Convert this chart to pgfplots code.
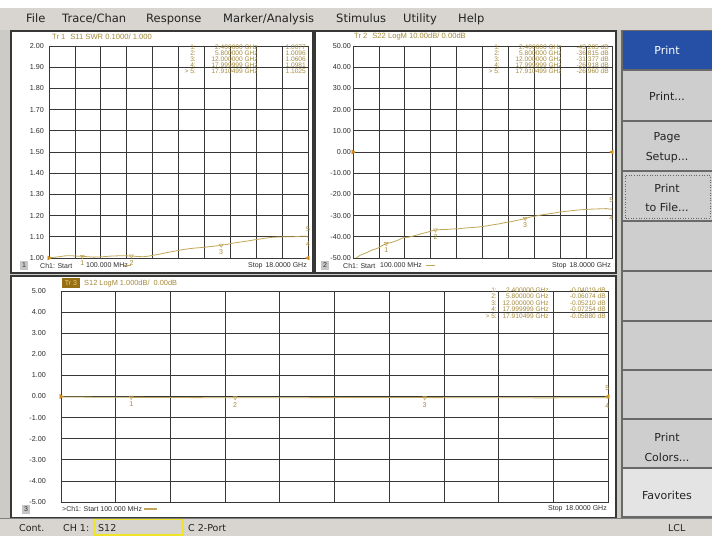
\documentclass[border=0pt]{standalone}
\usepackage{pgfplots}
\pgfplotsset{compat=1.18}
\usepackage{fontspec}
\setmainfont{Liberation Sans}
\newfontfamily\uifont{DejaVu Sans}
\definecolor{bggray}{RGB}{205,203,198}
\definecolor{menugray}{RGB}{216,213,208}
\definecolor{btngray}{RGB}{206,206,206}
\definecolor{btnlight}{RGB}{228,228,228}
\definecolor{btnsep}{RGB}{105,105,105}
\definecolor{blueBtn}{RGB}{38,80,166}
\definecolor{trace}{RGB}{192,166,86}
\definecolor{mtext}{RGB}{165,138,58}
\definecolor{refc}{RGB}{205,140,30}
\definecolor{gridc}{RGB}{55,55,55}
\definecolor{labc}{RGB}{45,45,45}
\definecolor{framec}{RGB}{55,55,55}
\definecolor{uitext}{RGB}{35,35,35}
\definecolor{trbox}{RGB}{150,110,20}
\definecolor{trboxtext}{RGB}{240,205,110}
\definecolor{ybox}{RGB}{240,228,40}
\newcommand\sz[1]{\fontsize{#1}{#1}\selectfont}
\pgfplotsset{
  vna/.style={
    scale only axis, clip=false,
    xmin=0.1, xmax=18,
    xtick={0.1,1.89,3.68,5.47,7.26,9.05,10.84,12.63,14.42,16.21,18},
    xticklabels={},
    grid=major,
    major grid style={gridc, line width=0.7pt},
    axis line style={gridc, line width=0.9pt},
    tick style={draw=none},
    yticklabel style={font=\sz{7.2}, text=labc, inner sep=1pt},
    /pgf/number format/fixed, /pgf/number format/fixed zerofill,
    /pgf/number format/precision=2,
    /pgf/number format/assume math mode=true,
    axis background/.style={fill=white},
  },
  trc/.style={trace, line width=0.8pt},
  mk/.style={only marks, mark=triangle, mark size=2.2pt,
    mark options={rotate=180, draw=trace, line width=0.5pt, fill=none},
    point meta=explicit symbolic, nodes near coords,
    nodes near coords style={anchor=north, font=\sz{7}, text=mtext, yshift=-1pt}},
  refL/.style={only marks, mark=triangle*, mark size=2.4pt, mark options={rotate=-90, fill=refc, draw=refc}},
  refR/.style={only marks, mark=triangle*, mark size=2.4pt, mark options={rotate=90, fill=refc, draw=refc}},
}
\begin{document}
\begin{tikzpicture}
\begin{scope}[x=1pt,y=1pt]
\path[use as bounding box] (0,0) rectangle (712,536);
\fill[bggray] (0,0) rectangle (712,536);
\fill[white] (0,528) rectangle (712,536);
\fill[menugray] (0,506) rectangle (712,528);
% menu
\begin{scope}[every node/.style={anchor=base west, inner sep=0pt, font=\uifont\sz{11.5}, text=uitext}]
\node at (26,513) {File};
\node at (62,513) {Trace/Chan};
\node at (146,513) {Response};
\node at (223,513) {Marker/Analysis};
\node at (336,513) {Stimulus};
\node at (403,513) {Utility};
\node at (458,513) {Help};
\end{scope}
% panels
\filldraw[fill=white, draw=framec, line width=2.5pt] (11,263) rectangle (313,505);
\filldraw[fill=white, draw=framec, line width=2.5pt] (315,263) rectangle (616,505);
\filldraw[fill=white, draw=framec, line width=2.5pt] (11,18) rectangle (616,260);
% softkeys
\fill[btnsep] (621,18) rectangle (712,506);
\fill[blueBtn] (623,467) rectangle (712,505);
\fill[btngray] (623,416) rectangle (712,464.5);
\fill[btngray] (623,366) rectangle (712,414);
\fill[btngray] (623,316) rectangle (712,364);
\fill[btngray] (623,266) rectangle (712,314);
\fill[btngray] (623,216) rectangle (712,264);
\fill[btngray] (623,167) rectangle (712,214);
\fill[btngray] (623,118) rectangle (712,165);
\fill[btngray] (623,69) rectangle (712,116);
\fill[btnlight] (623,20) rectangle (712,67);
\draw[uitext!70, dotted, line width=0.6pt] (625,318) rectangle (710,361);
\begin{scope}[every node/.style={anchor=center, inner sep=0pt, font=\uifont\sz{11}, text=uitext}]
\node[text=white] at (667,486) {Print};
\node at (667,440) {Print...};
\node at (667,398) {Page};
\node at (667,378) {Setup...};
\node at (667,348) {Print};
\node at (667,329) {to File...};
\node at (667,99) {Print};
\node at (667,79) {Colors...};
\node at (667,41) {Favorites};
\end{scope}
% status bar
\fill[menugray] (0,0) rectangle (712,17);
\draw[gray] (0,17.5) -- (712,17.5);
\draw[ybox, line width=1.3pt] (94,1) rectangle (183,16.5);
\begin{scope}[every node/.style={anchor=west, inner sep=0pt, font=\uifont\sz{9.5}, text=uitext}]
\node at (19,8) {Cont.};
\node at (63,8) {CH 1:};
\node at (98,8) {S12};
\node at (188,8) {C 2-Port};
\node at (668,8) {LCL};
\end{scope}
\end{scope}

% ---------- top left: S11 SWR ----------
\begin{axis}[vna, at={(49pt,278pt)}, anchor=south west, width=259pt, height=212pt,
  ymin=1, ymax=2, ytick={1,1.1,1.2,1.3,1.4,1.5,1.6,1.7,1.8,1.9,2},
  yticklabel style={xshift=-4pt}]
\addplot[trc] coordinates {
(0.1,1.000)(0.4,1.003)(0.8,1.006)(1.2,1.010)(1.6,1.011)(2.0,1.009)(2.4,1.0077)(2.8,1.006)(3.2,1.004)(3.6,1.005)(4.0,1.007)(4.4,1.009)(4.8,1.010)(5.2,1.011)(5.5,1.010)(5.8,1.0096)(6.2,1.007)(6.6,1.006)(7.0,1.009)(7.4,1.014)(7.8,1.019)(8.2,1.025)(8.6,1.030)(9.0,1.035)(9.4,1.040)(9.8,1.044)(10.2,1.047)(10.6,1.049)(11.0,1.052)(11.4,1.055)(11.8,1.058)(12.0,1.0606)(12.4,1.064)(12.8,1.070)(13.2,1.074)(13.6,1.078)(14.0,1.082)(14.4,1.087)(14.8,1.091)(15.2,1.095)(15.6,1.098)(16.0,1.099)(16.4,1.100)(16.8,1.100)(17.2,1.101)(17.6,1.103)(17.91,1.1025)(18.0,1.0981)};
\addplot[mk] coordinates {(2.4,1.0077)[1] (5.8,1.0096)[2] (12,1.0606)[3]};
\addplot[refL] coordinates {(0.1,1)};
\addplot[refR] coordinates {(18,1)};
\node[font=\sz{7}, text=mtext, inner sep=0pt] at (axis cs:18,1.135) {5};
\node[font=\sz{7}, text=mtext, inner sep=0pt] at (axis cs:18,1.065) {4};
\end{axis}

% ---------- top right: S22 LogM ----------
\begin{axis}[vna, at={(353pt,278pt)}, anchor=south west, width=259pt, height=212pt,
  ymin=-50, ymax=50, ytick={-50,-40,-30,-20,-10,0,10,20,30,40,50},
  yticklabel style={xshift=-1pt}]
\addplot[trc] coordinates {
(0.3,-50.0)(0.6,-48.7)(1.0,-47.6)(1.4,-46.3)(1.8,-45.4)(2.1,-44.2)(2.4,-43.205)(2.8,-42.6)(3.2,-41.6)(3.6,-40.4)(4.0,-40.1)(4.4,-39.4)(4.8,-38.6)(5.2,-37.9)(5.5,-37.3)(5.8,-36.815)(6.2,-36.6)(6.6,-36.5)(7.0,-36.3)(7.4,-36.2)(7.8,-35.9)(8.2,-35.7)(8.6,-35.5)(9.0,-35.2)(9.4,-34.8)(9.8,-34.3)(10.2,-33.9)(10.6,-33.3)(11.0,-32.9)(11.4,-32.3)(11.8,-31.7)(12.0,-31.377)(12.4,-30.6)(12.8,-30.1)(13.2,-29.6)(13.6,-29.2)(14.0,-28.8)(14.4,-28.3)(14.8,-28.0)(15.2,-27.7)(15.6,-27.4)(16.0,-27.2)(16.4,-27.0)(16.8,-26.9)(17.2,-26.8)(17.6,-26.7)(17.91,-26.96)(18.0,-26.918)};
\addplot[mk] coordinates {(2.4,-43.205)[1] (5.8,-36.815)[2] (12,-31.377)[3]};
\addplot[refL] coordinates {(0.1,0)};
\addplot[refR] coordinates {(18,0)};
\node[font=\sz{7}, text=mtext, inner sep=0pt] at (axis cs:17.95,-22.8) {5};
\node[font=\sz{7}, text=mtext, inner sep=0pt] at (axis cs:17.95,-31.0) {4};
\end{axis}

% ---------- bottom: S12 LogM ----------
\begin{axis}[vna, at={(61pt,34pt)}, anchor=south west, width=547pt, height=211pt,
  ymin=-5, ymax=5, ytick={-5,-4,-3,-2,-1,0,1,2,3,4,5},
  yticklabel style={xshift=-14pt}]
\addplot[trc] coordinates {
(0.1,-0.02)(1.0,-0.03)(2.4,-0.04019)(4.0,-0.05)(5.8,-0.06074)(8.0,-0.055)(10.0,-0.05)(12.0,-0.05210)(14.0,-0.06)(16.0,-0.065)(17.91,-0.05880)(18.0,-0.07254)};
\addplot[mk] coordinates {(2.4,-0.04019)[1] (5.8,-0.06074)[2] (12,-0.05210)[3]};
\addplot[refL] coordinates {(0.1,0)};
\addplot[refR] coordinates {(18,0)};
\node[font=\sz{7}, text=mtext, inner sep=0pt] at (axis cs:17.98,0.4) {5};
\node[font=\sz{7}, text=mtext, inner sep=0pt] at (axis cs:17.98,-0.45) {4};
\end{axis}

\begin{scope}[x=1pt,y=1pt]
% titles
\node[anchor=west, inner sep=0pt, font=\sz{7.6}, text=mtext] at (52,499) {Tr 1\hspace{5pt}S11 SWR 0.1000/ 1.000};
\node[anchor=west, inner sep=0pt, font=\sz{7.6}, text=mtext] at (354,499) {Tr 2\hspace{5pt}S22 LogM 10.00dB/ 0.00dB};
\fill[trbox] (62,248) rectangle (80,257.5);
\node[inner sep=0pt, font=\sz{7}, text=trboxtext] at (71,252.8) {Tr 3};
\node[anchor=west, inner sep=0pt, font=\sz{7.4}, text=mtext] at (84,252.8) {S12 LogM 1.000dB/\hspace{4pt}0.00dB};
% marker tables
\begin{scope}[every node/.style={anchor=east, inner sep=0pt, font=\sz{6.6}, text=mtext}]
\foreach \yy/\id/\f/\v in {489/1:/2.400000 GHz/1.0077, 483/2:/5.800000 GHz/1.0096, 477/3:/12.000000 GHz/1.0606, 471/4:/17.999999 GHz/1.0981, 465/> 5:/17.910499 GHz/1.1025}{
  \node at (196,\yy) {\id};
  \node at (258,\yy) {\f};
  \node at (306,\yy) {\v};
}
\foreach \yy/\id/\f/\v in {489/1:/2.400000 GHz/-43.205 dB, 483/2:/5.800000 GHz/-36.815 dB, 477/3:/12.000000 GHz/-31.377 dB, 471/4:/17.999999 GHz/-26.918 dB, 465/> 5:/17.910499 GHz/-26.960 dB}{
  \node at (500,\yy) {\id};
  \node at (562,\yy) {\f};
  \node at (609,\yy) {\v};
}
\foreach \yy/\id/\f/\v in {246/1:/2.400000 GHz/-0.04019 dB, 239.5/2:/5.800000 GHz/-0.06074 dB, 233/3:/12.000000 GHz/-0.05210 dB, 226.5/4:/17.999999 GHz/-0.07254 dB, 220/> 5:/17.910499 GHz/-0.05880 dB}{
  \node at (497,\yy) {\id};
  \node at (549,\yy) {\f};
  \node at (606,\yy) {\v};
}
\end{scope}
% footers
\begin{scope}[every node/.style={inner sep=0pt, font=\sz{7}, text=labc}]
\fill[gray!45] (20,266) rectangle (28,275);
\node at (24,270.5) {1};
\node[anchor=west] at (40,270.5) {Ch1: Start};
\node[anchor=west] at (86,270.5) {100.000 MHz};
\draw[trace, line width=1.2pt] (124,270.5) -- (131,270.5);
\node[anchor=east] at (307,270.5) {Stop\hspace{3pt}18.0000 GHz};
\fill[gray!45] (321,266) rectangle (329,275);
\node at (325,270.5) {2};
\node[anchor=west] at (343,270.5) {Ch1: Start};
\node[anchor=west] at (380,270.5) {100.000 MHz};
\draw[trace, line width=1.2pt] (426,270.5) -- (435,270.5);
\node[anchor=east] at (611,270.5) {Stop\hspace{3pt}18.0000 GHz};
\fill[gray!45] (22,22.5) rectangle (30,31.5);
\node at (26,27) {3};
\node[anchor=west] at (62,27) {>Ch1: Start 100.000 MHz};
\draw[trace, line width=1.2pt] (144,27) -- (157,27);
\node[anchor=east] at (607,27) {Stop\hspace{3pt}18.0000 GHz};
\end{scope}
\end{scope}
\end{tikzpicture}
\end{document}
